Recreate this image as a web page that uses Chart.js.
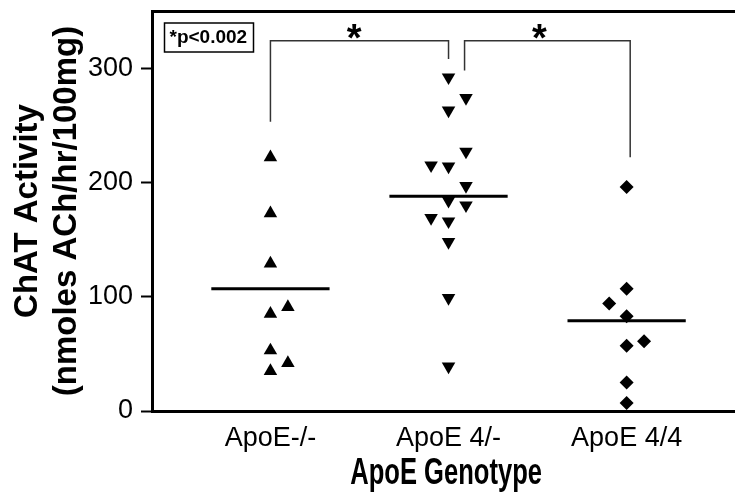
<!DOCTYPE html>
<html>
<head>
<meta charset="utf-8">
<script src="https://cdn.jsdelivr.net/npm/chart.js@4.4.1/dist/chart.umd.min.js"></script>
<style>
  body { margin: 0; background: #fff; }
  canvas { display: block; }
</style>
</head>
<body>
<canvas id="graf" width="742" height="498"></canvas>
<script>
const graf = document.querySelector('#graf');

// Grupper på x-axeln
const groups = ['ApoE-/-', 'ApoE 4/-', 'ApoE 4/4'];
const xTitle = 'ApoE Genotype';

// Mätvärden per grupp (ChAT-aktivitet) och vilken kolumn punkten ligger i (-1, 0, 1)
const koValues = [222, 173, 129, 85, 91, 53, 35, 42];
const koCols   = [0, 0, 0, 0, 1, 0, 0, 1];
const e4Values = [292, 274, 263, 227, 215, 214, 197, 184, 180, 169, 166, 148, 99, 39];
const e4Cols   = [0, 1, 0, 1, -1, 0, 1, 0, 1, -1, 0, 0, 0, 0];
const e44Values = [196, 107, 94, 83, 61, 57, 25, 7];
const e44Cols   = [0, 0, -1, 0, 1, 0, 0, 0];

// Medianlinjer
const medians = [107, 188, 79];

// Y-axelns tickar
const yTicks = [0, 100, 200, 300];

// Signifikansklamrar (x = gruppnummer, y = värde)
const bracket1 = [{x: 1, y: 253}, {x: 1, y: 324}, {x: 2, y: 324}, {x: 2, y: 308}];
const bracket2 = [{x: 2.09, y: 298}, {x: 2.09, y: 324}, {x: 3.02, y: 324}, {x: 3.02, y: 222}];
const starX = [1.47, 2.51];
const starY = 333;
const pText = '*p<0.002';

const FONT = '"Liberation Sans", Arial, sans-serif';
const jitter = 0.098;

function points(group, values, cols) {
    return values.map((v, i) => ({x: group + cols[i] * jitter, y: v}));
}

function medianLine(group, v) {
    return [{x: group - 0.332, y: v}, {x: group + 0.332, y: v}];
}

const thinLine = {
    type: 'line', showLine: true, borderColor: '#333', borderWidth: 1.5,
    pointRadius: 0, fill: false, tension: 0
};

// Stjärnor, p-värdesruta och x-axelns rubrik (smal fet stil)
const notes = {
    id: 'notes',
    afterDatasetsDraw(chart) {
        const {ctx, scales: {x, y}, chartArea} = chart;
        ctx.save();
        ctx.fillStyle = '#000';
        ctx.font = 'bold 38px ' + FONT;
        ctx.textAlign = 'center';
        ctx.textBaseline = 'alphabetic';
        starX.forEach(v => ctx.fillText('*', x.getPixelForValue(v), y.getPixelForValue(starY) + 21));

        const bx = chartArea.left + 12.5, by = chartArea.top + 12;
        ctx.strokeStyle = '#000';
        ctx.lineWidth = 1.5;
        ctx.strokeRect(bx, by, 89, 29);
        ctx.font = 'bold 19px ' + FONT;
        ctx.textAlign = 'left';
        ctx.textBaseline = 'middle';
        ctx.fillText(pText, bx + 5, by + 15);

        // x-titel, hoptryckt på bredden
        ctx.translate((chartArea.left + chartArea.right) / 2 + 3, chartArea.bottom + 73);
        ctx.scale(0.71, 1);
        ctx.font = 'bold 36px ' + FONT;
        ctx.textAlign = 'center';
        ctx.textBaseline = 'alphabetic';
        ctx.fillText(xTitle, 0, 0);
        ctx.restore();
    }
};

new Chart(graf, {
    type: 'scatter',
    data: {
        datasets: [
            { data: points(1, koValues, koCols), pointStyle: 'triangle', pointRadius: 7.8,
              backgroundColor: '#000', borderWidth: 0 },
            { data: points(2, e4Values, e4Cols), pointStyle: 'triangle', pointRotation: 180, pointRadius: 7.8,
              backgroundColor: '#000', borderWidth: 0 },
            { data: points(3, e44Values, e44Cols), pointStyle: 'rectRot', pointRadius: 7,
              backgroundColor: '#000', borderWidth: 0 },
            ...medians.map((m, i) => ({
                type: 'line', showLine: true, data: medianLine(i + 1, m),
                borderColor: '#000', borderWidth: 3, pointRadius: 0, fill: false
            })),
            { ...thinLine, data: bracket1 },
            { ...thinLine, data: bracket2 }
        ]
    },
    options: {
        responsive: false,
        devicePixelRatio: 1,
        animation: false,
        layout: { padding: 0 },
        plugins: { legend: { display: false }, tooltip: { enabled: false } },
        scales: {
            x: {
                type: 'linear', min: 0.335, max: 3.604,
                afterBuildTicks: s => { s.ticks = groups.map((g, i) => ({value: i + 1})); },
                afterFit: s => { s.height = 87; s.paddingLeft = 0; s.paddingRight = 0; },
                grid: { display: false, drawTicks: false },
                border: { display: true, color: '#000', width: 3 },
                ticks: {
                    color: '#000', font: { family: FONT, size: 27 }, padding: 11,
                    maxRotation: 0, autoSkip: false,
                    callback: v => groups[Math.round(v) - 1]
                }
            },
            xTop: {
                type: 'linear', position: 'top',
                afterFit: s => { s.height = 11; },
                grid: { display: false },
                border: { display: true, color: '#000', width: 3 },
                ticks: { display: false }
            },
            y: {
                min: 0, max: 350,
                afterBuildTicks: s => { s.ticks = yTicks.map(v => ({value: v})); },
                afterFit: s => { s.width = 152; s.paddingTop = 0; s.paddingBottom = 0; },
                grid: { drawOnChartArea: false, drawTicks: true, tickLength: 11, tickColor: '#000', tickWidth: 2 },
                border: { display: true, color: '#000', width: 3 },
                ticks: { color: '#000', font: { family: FONT, size: 27 }, padding: 8 },
                title: {
                    display: true, text: ['ChAT Activity', '(nmoles ACh/hr/100mg)'], color: '#000',
                    font: { family: FONT, size: 33, weight: 'bold', lineHeight: 1.18 },
                    padding: { top: 8, bottom: 0 }
                }
            }
        }
    },
    plugins: [notes]
});
</script>
</body>
</html>
